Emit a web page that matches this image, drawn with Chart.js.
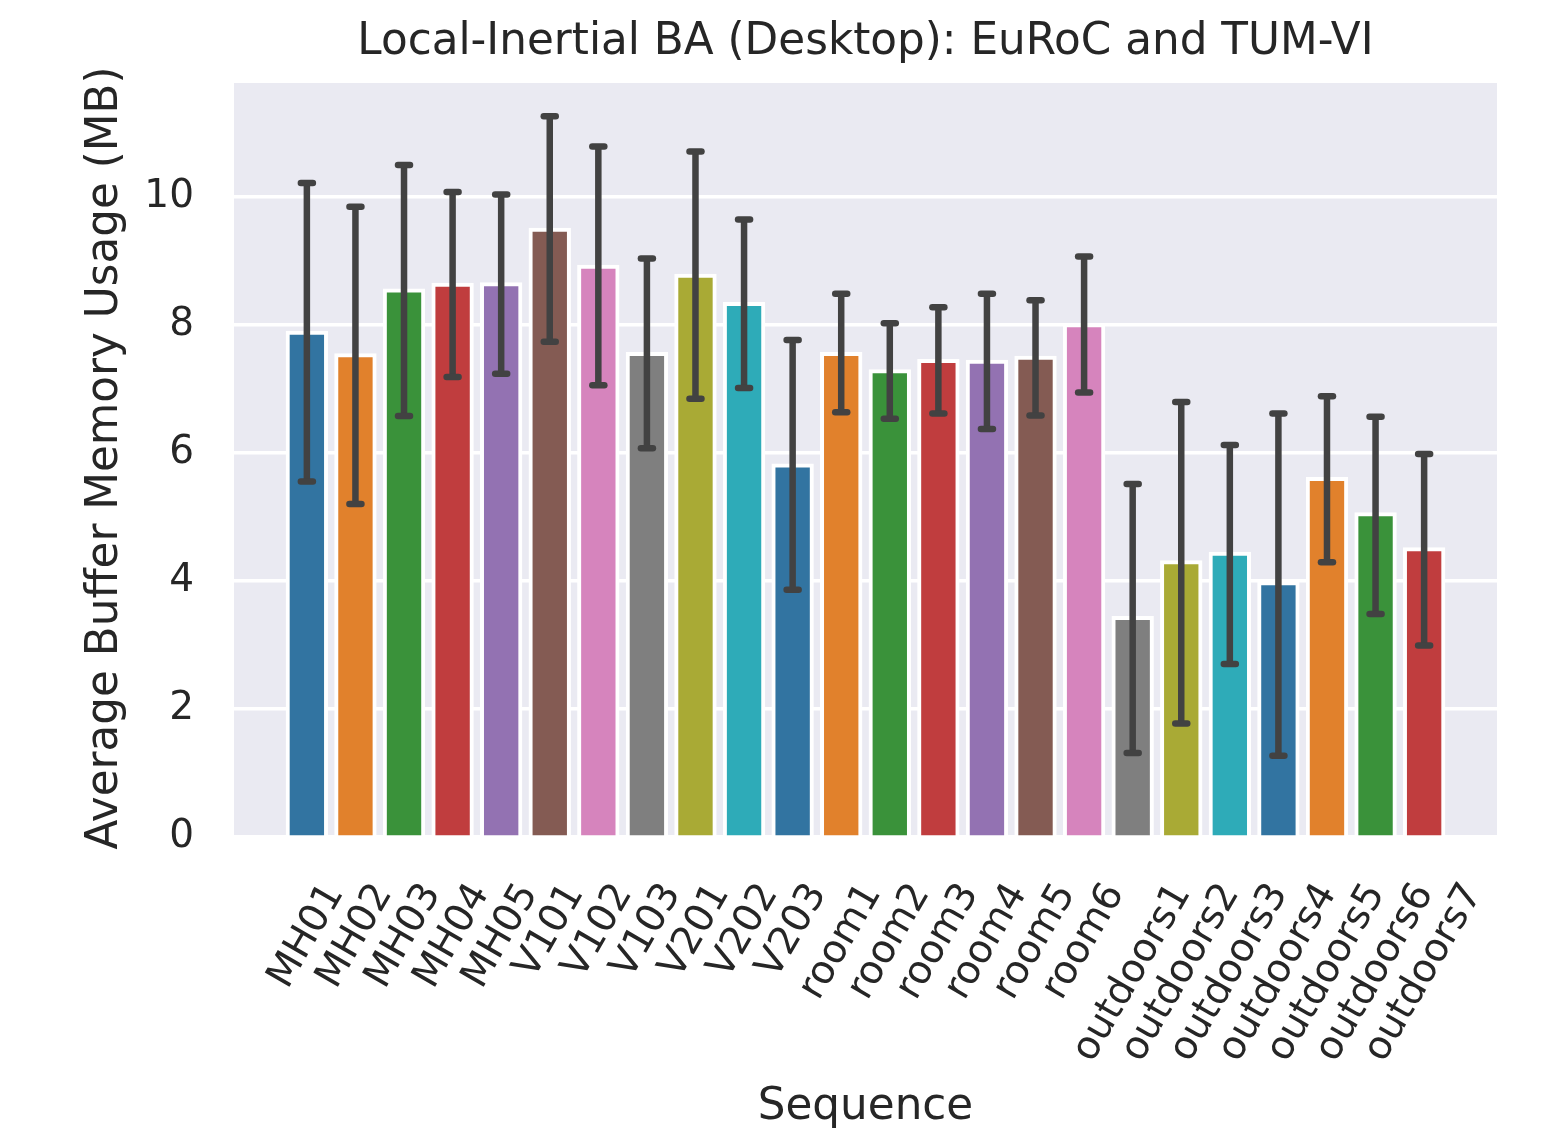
<!DOCTYPE html>
<html>
<head>
<meta charset="utf-8">
<title>Local-Inertial BA (Desktop): EuRoC and TUM-VI</title>
<script src="https://cdn.jsdelivr.net/npm/chart.js@4.4.1/dist/chart.umd.min.js"></script>
<style>
  html, body { margin: 0; padding: 0; background: #fff; }
  #chart { display: block; }
</style>
</head>
<body>
<canvas id="chart" width="1545" height="1140"></canvas>
<script>
// values (MB)
const sequences = ['MH01', 'MH02', 'MH03', 'MH04', 'MH05', 'V101', 'V102', 'V103', 'V201', 'V202', 'V203',
    'room1', 'room2', 'room3', 'room4', 'room5', 'room6',
    'outdoors1', 'outdoors2', 'outdoors3', 'outdoors4', 'outdoors5', 'outdoors6', 'outdoors7'];
const meanUsage = [7.87, 7.52, 8.53, 8.62, 8.63, 9.48, 8.90, 7.54, 8.76, 8.32, 5.80,
    7.54, 7.27, 7.43, 7.42, 7.48, 7.99,
    3.42, 4.29, 4.42, 3.96, 5.59, 5.04, 4.49];
const errLow = [5.55, 5.20, 6.57, 7.18, 7.23, 7.73, 7.05, 6.07, 6.84, 7.01, 3.86,
    6.63, 6.53, 6.61, 6.37, 6.58, 6.94,
    1.31, 1.77, 2.70, 1.27, 4.29, 3.48, 2.99];
const errHigh = [10.21, 9.84, 10.49, 10.07, 10.03, 11.25, 10.78, 9.03, 10.70, 9.64, 7.76,
    8.48, 8.02, 8.27, 8.48, 8.38, 9.06,
    5.51, 6.79, 6.12, 6.61, 6.88, 6.56, 5.98];
const yTicks = [0, 2, 4, 6, 8, 10];

const palette = ['#3274a1', '#e1812c', '#3a923a', '#c03d3e', '#9372b2',
    '#845b53', '#d684bd', '#7f7f7f', '#a9aa35', '#2eabb8'];
const textColor = '#262626';
const fontFamily = '"DejaVu Sans", "Liberation Sans", sans-serif';

// one empty slot on each side, like the original axis
const slots = [''].concat(sequences, ['']);
const slotValues = [null].concat(meanUsage, [null]);
const slotColors = slots.map((s, i) => palette[(i + 9) % 10]);

const backgroundPlugin = {
    id: 'panelBackground',
    beforeDraw(chart) {
        const { ctx, chartArea } = chart;
        ctx.save();
        ctx.fillStyle = '#ffffff';
        ctx.fillRect(0, 0, chart.width, chart.height);
        ctx.fillStyle = '#eaeaf2';
        ctx.fillRect(chartArea.left, chartArea.top, chartArea.right - chartArea.left, chartArea.bottom - chartArea.top);
        ctx.restore();
    }
};

const errorBarPlugin = {
    id: 'errorBars',
    afterDatasetsDraw(chart) {
        const { ctx } = chart;
        const xs = chart.scales.x, ys = chart.scales.y;
        ctx.save();
        ctx.strokeStyle = '#424242';
        ctx.lineWidth = 6.5;
        sequences.forEach((s, i) => {
            const x = xs.getPixelForValue(i + 1);
            const yLo = ys.getPixelForValue(errLow[i]);
            const yHi = ys.getPixelForValue(errHigh[i]);
            ctx.lineCap = 'butt';
            ctx.beginPath();
            ctx.moveTo(x, yLo);
            ctx.lineTo(x, yHi);
            ctx.stroke();
            ctx.lineCap = 'round';
            [yLo, yHi].forEach(y => {
                ctx.beginPath();
                ctx.moveTo(x - 6, y);
                ctx.lineTo(x + 6, y);
                ctx.stroke();
            });
        });
        ctx.restore();
    }
};

const textPlugin = {
    id: 'texts',
    afterDraw(chart) {
        const { ctx, chartArea } = chart;
        const xs = chart.scales.x;
        const cx = (chartArea.left + chartArea.right) / 2;
        const cy = (chartArea.top + chartArea.bottom) / 2;
        ctx.save();
        ctx.fillStyle = textColor;

        // rotated tick labels, box centred under each bar
        const tickSize = 39;
        const ang = Math.PI / 3;
        ctx.font = tickSize + 'px ' + fontFamily;
        ctx.textAlign = 'center';
        ctx.textBaseline = 'middle';
        sequences.forEach((s, i) => {
            const x = xs.getPixelForValue(i + 1);
            const w = ctx.measureText(s).width;
            const h = tickSize * 1.164;
            const boxH = w * Math.sin(ang) + h * Math.cos(ang);
            ctx.save();
            ctx.translate(x, chartArea.bottom + 39 + boxH / 2);
            ctx.rotate(-ang);
            ctx.fillText(s, 0, 0);
            ctx.restore();
        });

        ctx.font = '43.7px ' + fontFamily;
        ctx.textBaseline = 'alphabetic';
        ctx.fillText('Local-Inertial BA (Desktop): EuRoC and TUM-VI', cx, 54);
        ctx.fillText('Sequence', cx, 1119);

        ctx.translate(117, cy - 2);
        ctx.rotate(-Math.PI / 2);
        ctx.fillText('Average Buffer Memory Usage (MB)', 0, 0);
        ctx.restore();
    }
};

new Chart(document.getElementById('chart').getContext('2d'), {
    type: 'bar',
    data: {
        labels: slots,
        datasets: [{
            data: slotValues,
            backgroundColor: slotColors,
            borderColor: '#ffffff',
            borderWidth: 4,
            inflateAmount: 2,   // edge straddles the bar outline, as in matplotlib
            categoryPercentage: 0.79,
            barPercentage: 1.0
        }]
    },
    options: {
        responsive: false,
        animation: false,
        events: [],
        layout: { padding: { left: 0, top: 83, right: 48, bottom: 0 } },
        plugins: {
            legend: { display: false },
            tooltip: { enabled: false },
            title: { display: false }
        },
        scales: {
            x: {
                offset: true,
                grid: { display: false },
                border: { display: false },
                ticks: { display: false },
                afterFit(scale) { scale.height = 303; }
            },
            y: {
                min: 0,
                max: 11.77,
                grid: { color: '#ffffff', lineWidth: 3.5, drawTicks: false },
                border: { display: false },
                ticks: {
                    color: textColor,
                    padding: 40,
                    font: { family: fontFamily, size: 39 }
                },
                afterBuildTicks(scale) {
                    scale.ticks = yTicks.map(v => ({ value: v }));
                },
                afterFit(scale) { scale.width = 234; }
            }
        }
    },
    plugins: [backgroundPlugin, errorBarPlugin, textPlugin]
});
</script>
</body>
</html>
